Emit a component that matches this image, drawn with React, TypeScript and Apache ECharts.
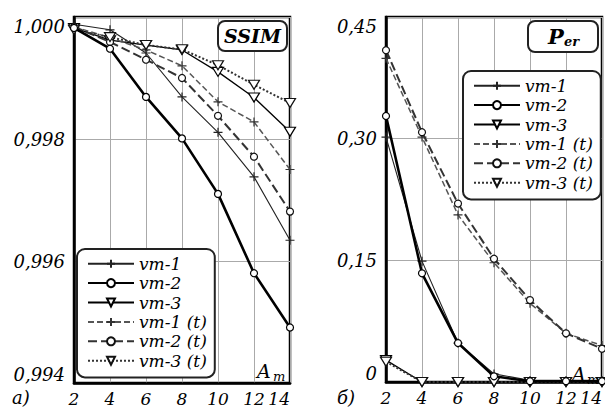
import React, { useEffect, useRef } from 'react';
import * as echarts from 'echarts';

const xValues = [2, 4, 6, 8, 10, 12, 14];
const seriesNames = ['vm-1', 'vm-2', 'vm-3', 'vm-1 (t)', 'vm-2 (t)', 'vm-3 (t)'];

const ssimVm1 = [0.99988, 0.99979, 0.99941, 0.99869, 0.99811, 0.99738, 0.99634];
const ssimVm2 = [0.99982, 0.99948, 0.99869, 0.99801, 0.9971, 0.9958, 0.99491];
const ssimVm3 = [0.99982, 0.99962, 0.99954, 0.99946, 0.9991, 0.99868, 0.99812];
const ssimVm1t = [0.99984, 0.99966, 0.99946, 0.9992, 0.99861, 0.99828, 0.9975];
const ssimVm2t = [0.99984, 0.99959, 0.9993, 0.999, 0.99838, 0.99771, 0.99681];
const ssimVm3t = [0.99979, 0.99967, 0.99954, 0.99947, 0.99921, 0.99889, 0.99859];

const perVm1 = [0.302, 0.149, 0.048, 0.01, 0.002, 0.002, 0.002];
const perVm2 = [0.328, 0.134, 0.048, 0.007, 0.001, 0.001, 0.001];
const perVm3 = [0.027, 0, 0, 0, 0, 0, 0];
const perVm1t = [0.399, 0.302, 0.206, 0.147, 0.097, 0.06, 0.045];
const perVm2t = [0.409, 0.308, 0.22, 0.152, 0.101, 0.06, 0.041];
const perVm3t = [0.025, 0, 0, 0, 0, 0, 0];

const ssimRange = [0.994, 1.0];
const ssimStep = 0.002;
const perRange = [0, 0.45];
const perStep = 0.15;

const ssimData = [ssimVm1, ssimVm2, ssimVm3, ssimVm1t, ssimVm2t, ssimVm3t];
const perData = [perVm1, perVm2, perVm3, perVm1t, perVm2t, perVm3t];

const FONT = 'DejaVu Serif';
const PLUS = 'path://M5,0L5,10M0,5L10,5';
const TRI = 'path://M0,0L10,0L5,9Z';

const looks = [
  { symbol: PLUS, size: 9, line: '#222', border: '#222', width: 1.1, type: 'solid' },
  { symbol: 'circle', size: 7, line: '#000', border: '#000', width: 2.6, type: 'solid' },
  { symbol: TRI, size: [11, 9], line: '#000', border: '#000', width: 1.3, type: 'solid' },
  { symbol: PLUS, size: 9, line: '#555', border: '#333', width: 1.5, type: [6, 3] },
  { symbol: 'circle', size: 7, line: '#333', border: '#111', width: 2, type: [9, 4] },
  { symbol: TRI, size: [11, 9], line: '#333', border: '#111', width: 2, type: [2, 2] },
];

function makeSeries(data: number[][], axis: number) {
  return data.map((arr, k) => {
    const l = looks[k];
    return {
      type: 'line',
      name: seriesNames[k],
      xAxisIndex: axis,
      yAxisIndex: axis,
      data: xValues.map((x, i) => [x, arr[i]]),
      symbol: l.symbol,
      symbolSize: l.size,
      showAllSymbol: true,
      clip: false,
      lineStyle: { color: l.line, width: l.width, type: l.type },
      itemStyle: { color: '#fff', borderColor: l.border, borderWidth: 1.2 },
      z: k === 1 ? 4 : 3,
    };
  });
}

function legendAt(left: number, top: number) {
  return {
    data: seriesNames,
    orient: 'vertical',
    left,
    top,
    itemWidth: 46,
    itemHeight: 10,
    itemGap: 0,
    selectedMode: false,
    padding: [5, 8, 7, 10],
    backgroundColor: '#fff',
    borderColor: '#222',
    borderWidth: 2,
    borderRadius: 8,
    textStyle: { fontFamily: FONT, fontStyle: 'italic', fontSize: 17, color: '#000', lineHeight: 19.4 },
  };
}

const axisLabelX = {
  fontFamily: FONT, fontStyle: 'italic', fontSize: 17, color: '#000', margin: 7,
  alignMaxLabel: 'right',
};

function frameText(x: number, y: number, text: string, size: number, weight = 'normal', align = 'left') {
  return {
    type: 'text', x, y, z: 100,
    style: { text, fontFamily: FONT, fontStyle: 'italic', fontWeight: weight, fontSize: size, fill: '#000', align, verticalAlign: 'middle' },
  };
}

const option = {
  animation: false,
  backgroundColor: '#fff',
  grid: [
    { left: 74, top: 17, width: 216, height: 366, show: true, borderColor: '#000', borderWidth: 2.5 },
    { left: 386, top: 17, width: 216, height: 365, show: true, borderColor: '#000', borderWidth: 2.5 },
  ],
  xAxis: [0, 1].map((g) => ({
    type: 'value', gridIndex: g, min: 2, max: 14, interval: 2,
    axisLine: { lineStyle: { color: '#000', width: 2.5 } },
    axisTick: { show: false },
    splitLine: { lineStyle: { color: '#aaa', width: 1 } },
    axisLabel: axisLabelX,
  })),
  yAxis: [
    {
      type: 'value', gridIndex: 0, min: ssimRange[0], max: ssimRange[1], interval: ssimStep,
      axisLine: { show: true, lineStyle: { color: '#000', width: 2.5 } },
      axisTick: { show: false },
      splitLine: { lineStyle: { color: '#aaa', width: 1 } },
      axisLabel: {
        fontFamily: FONT, fontStyle: 'italic', fontSize: 18, color: '#000', margin: 9,
        verticalAlignMaxLabel: 'top', verticalAlignMinLabel: 'bottom',
        formatter: (v: number) => v.toFixed(3).replace('.', ','),
      },
    },
    {
      type: 'value', gridIndex: 1, min: perRange[0], max: perRange[1], interval: perStep,
      axisLine: { show: true, lineStyle: { color: '#000', width: 2.5 } },
      axisTick: { show: false },
      splitLine: { lineStyle: { color: '#aaa', width: 1 } },
      axisLabel: {
        fontFamily: FONT, fontStyle: 'italic', fontSize: 18, color: '#000', margin: 9,
        verticalAlignMaxLabel: 'top', verticalAlignMinLabel: 'bottom',
        formatter: (v: number) => (v === 0 ? '0' : v.toFixed(2).replace('.', ',')),
      },
    },
  ],
  legend: [legendAt(77, 249), legendAt(463, 71)],
  series: [...makeSeries(ssimData, 0), ...makeSeries(perData, 1)],
  graphic: [
    { type: 'rect', z: 99, shape: { x: 218, y: 21, width: 69, height: 30, r: 7 }, style: { fill: '#fff', stroke: '#222', lineWidth: 2 } },
    frameText(252.5, 36, 'SSIM', 19, 'bold', 'center'),
    { type: 'rect', z: 99, shape: { x: 528, y: 21, width: 70, height: 31, r: 7 }, style: { fill: '#fff', stroke: '#222', lineWidth: 2 } },
    frameText(548, 36, 'P', 21, 'bold'),
    frameText(564, 41, 'er', 13, 'bold'),
    frameText(257, 371, 'A', 19),
    frameText(273, 376, 'm', 13),
    frameText(572, 374, 'A', 19),
    frameText(587, 379, 'm', 13),
    frameText(12, 397, 'а)', 18),
    frameText(337, 397, 'б)', 18),
  ],
};

export default function App() {
  const ref = useRef<HTMLDivElement>(null);
  useEffect(() => {
    const chart = echarts.init(ref.current!, null, { renderer: 'svg' });
    chart.setOption(option as any);
    return () => chart.dispose();
  }, []);
  return (
    <div
      ref={ref}
      style={{ position: 'fixed', left: 0, top: 0, width: 605, height: 409, background: '#fff' }}
    />
  );
}
